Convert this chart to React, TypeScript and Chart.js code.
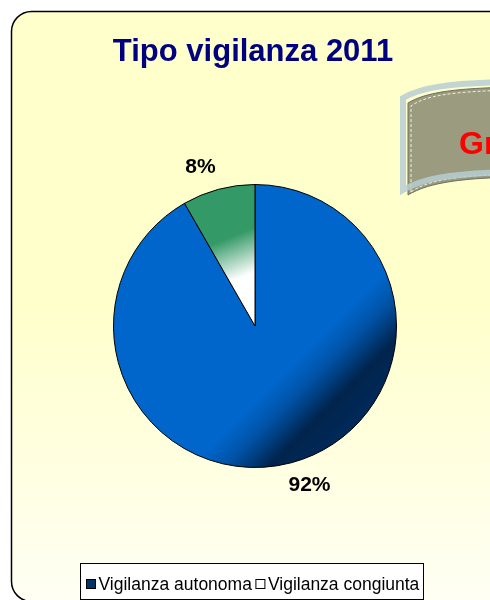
import React, { useEffect, useRef } from 'react';
import { Chart, registerables } from 'chart.js';

Chart.register(...registerables);

const categories = ['Vigilanza autonoma', 'Vigilanza congiunta'];
const values = [91.7, 8.3];
const titleText = 'Tipo vigilanza 2011';
const legendColors = ['#003366', '#FFFFFF'];
const bannerText = 'Gr';

const FONT = '"Liberation Sans", Arial, Helvetica, sans-serif';

function bannerPath(ctx: CanvasRenderingContext2D, ox: number, oy: number, inset: number) {
  const L = 408 + ox + inset;
  ctx.beginPath();
  ctx.moveTo(L, 195 + oy - inset);
  ctx.lineTo(L, 103 + oy + inset);
  ctx.bezierCurveTo(425 + ox, 93 + oy + inset, 450 + ox, 88 + oy + inset, 520 + ox, 87 + oy + inset);
  ctx.lineTo(520 + ox, 177 + oy - inset);
  ctx.bezierCurveTo(450 + ox, 178 + oy - inset, 425 + ox, 185 + oy - inset, L, 195 + oy - inset);
  ctx.closePath();
}

export default function App() {
  const ref = useRef<HTMLCanvasElement>(null);

  useEffect(() => {
    const canvas = ref.current!;

    const bgPlugin = {
      id: 'bgDecor',
      beforeDraw(chart: any) {
        const ctx: CanvasRenderingContext2D = chart.ctx;
        ctx.save();
        // rounded background panel
        const x = 11.5, y = 11.5, w = 500, h = 590, r = 20;
        const g = ctx.createLinearGradient(0, y, 0, y + h);
        g.addColorStop(0, '#FFFFCC');
        g.addColorStop(0.5, '#FFFFCC');
        g.addColorStop(1, '#FFFFF4');
        ctx.beginPath();
        (ctx as any).roundRect(x, y, w, h, r);
        ctx.fillStyle = g;
        ctx.fill();
        ctx.lineWidth = 1.5;
        ctx.strokeStyle = '#000';
        ctx.stroke();

        // banner decoration top right
        bannerPath(ctx, 0, 0, 0);
        ctx.fillStyle = '#9B9B7F';
        ctx.fill();
        ctx.lineWidth = 1;
        ctx.strokeStyle = '#6E6E60';
        ctx.stroke();
        bannerPath(ctx, 0, 0, 3);
        ctx.setLineDash([3, 2]);
        ctx.strokeStyle = 'rgba(255,255,240,0.85)';
        ctx.lineWidth = 1;
        ctx.stroke();
        ctx.setLineDash([]);
        ctx.font = 'bold 32px ' + FONT;
        ctx.fillStyle = '#FF0000';
        ctx.textAlign = 'left';
        ctx.textBaseline = 'alphabetic';
        ctx.fillText(bannerText, 459, 154);
        bannerPath(ctx, -5, -5, 0);
        ctx.strokeStyle = 'rgba(183,206,210,0.85)';
        ctx.lineWidth = 6;
        ctx.stroke();

        // title
        ctx.font = 'bold 31px ' + FONT;
        ctx.fillStyle = '#000080';
        ctx.textAlign = 'center';
        ctx.textBaseline = 'alphabetic';
        ctx.fillText(titleText, 253, 61);

        // legend
        ctx.fillStyle = '#FFFFFF';
        ctx.fillRect(80.5, 563.5, 343, 36);
        ctx.lineWidth = 1;
        ctx.strokeStyle = '#000';
        ctx.strokeRect(80.5, 563.5, 343, 36);
        ctx.font = '17.5px ' + FONT;
        ctx.textAlign = 'left';
        let lx = 86.5;
        categories.forEach((c, i) => {
          ctx.fillStyle = legendColors[i];
          ctx.fillRect(lx, 579.5, 9, 9);
          ctx.strokeStyle = '#000';
          ctx.strokeRect(lx, 579.5, 9, 9);
          ctx.fillStyle = '#000';
          ctx.fillText(c, lx + 12, 589.5);
          lx = lx + 12 + ctx.measureText(c).width + 4;
        });
        ctx.restore();
      },
    };

    const labelPlugin = {
      id: 'pctLabels',
      afterDatasetsDraw(chart: any) {
        const ctx: CanvasRenderingContext2D = chart.ctx;
        const meta = chart.getDatasetMeta(0);
        const total = values.reduce((a, b) => a + b, 0);
        ctx.save();
        ctx.font = 'bold 21px ' + FONT;
        ctx.fillStyle = '#000';
        ctx.textAlign = 'center';
        ctx.textBaseline = 'middle';
        meta.data.forEach((arc: any, i: number) => {
          const p = arc.getProps(['x', 'y', 'startAngle', 'endAngle', 'outerRadius'], true);
          const mid = (p.startAngle + p.endAngle) / 2 - (4 * Math.PI) / 180;
          const d = p.outerRadius + 26.5;
          ctx.fillText(Math.round((values[i] / total) * 100) + '%', p.x + d * Math.cos(mid), p.y + d * Math.sin(mid));
        });
        ctx.restore();
      },
    };

    const chart = new Chart(canvas, {
      type: 'pie',
      data: {
        labels: categories,
        datasets: [
          {
            data: values,
            borderColor: '#000',
            borderWidth: 1,
            backgroundColor: (c: any) => {
              const ch = c.chart;
              const ca = ch.chartArea;
              if (!ca) return c.dataIndex === 0 ? '#0066CC' : '#339966';
              const cx = (ca.left + ca.right) / 2;
              const cy = (ca.top + ca.bottom) / 2;
              const r = Math.min(ca.width, ca.height) / 2;
              const ctx = ch.ctx as CanvasRenderingContext2D;
              if (c.dataIndex === 0) {
                const a = (45 * Math.PI) / 180;
                const dx = Math.cos(a) * r, dy = Math.sin(a) * r;
                const g = ctx.createLinearGradient(cx - dx, cy - dy, cx + dx, cy + dy);
                g.addColorStop(0, '#0066CC');
                g.addColorStop(0.69, '#0066CC');
                g.addColorStop(0.77, '#0054A8');
                g.addColorStop(0.83, '#003C7A');
                g.addColorStop(0.885, '#00244D');
                g.addColorStop(1, '#002A5A');
                return g;
              }
              const g = ctx.createLinearGradient(cx - 0.22 * r, cy - 0.78 * r, cx - 0.05 * r, cy - 0.36 * r);
              g.addColorStop(0, '#339966');
              g.addColorStop(0.35, '#339966');
              g.addColorStop(1, '#FFFFFF');
              return g;
            },
          },
        ],
      },
      options: {
        responsive: false,
        animation: false,
        events: [],
        layout: { padding: { left: 113, top: 184, right: 93, bottom: 132 } },
        plugins: {
          legend: { display: false },
          title: { display: false },
          tooltip: { enabled: false },
        },
      },
      plugins: [bgPlugin, labelPlugin],
    });

    return () => chart.destroy();
  }, []);

  return (
    <div style={{ position: 'absolute', left: 0, top: 0, width: 490, height: 600, background: '#fff' }}>
      <canvas ref={ref} width={490} height={600} style={{ display: 'block', width: 490, height: 600 }} />
    </div>
  );
}
